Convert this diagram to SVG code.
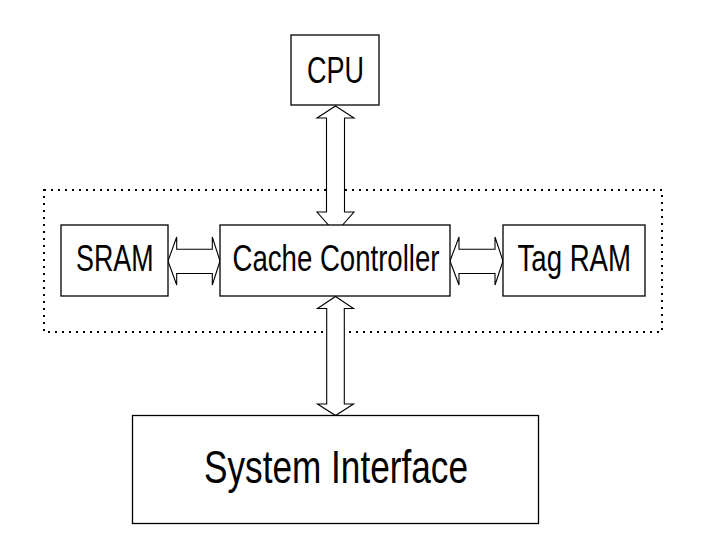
<svg xmlns="http://www.w3.org/2000/svg" width="706" height="541" viewBox="0 0 706 541">
<style>
.box{fill:#fff;stroke:#000;stroke-width:1.3}
.arr{fill:#fff;stroke:#000;stroke-width:1.1;stroke-linejoin:miter}
.grp{fill:none;stroke:#000;stroke-width:2;stroke-dasharray:2 5}
text{font-family:"Liberation Sans",Arial,sans-serif;fill:#000;text-anchor:start}
</style>
<rect width="706" height="541" fill="#fff"/>
<rect id="cache-group" class="grp" x="44" y="190" width="618" height="142"/>
<g id="connectors">
<polygon class="arr" points="335.5,106 354,118 344.5,118 344.5,212 354,212 335.5,233 317,212 326.5,212 326.5,118 317,118"/>
<polygon class="arr" points="335.5,296.5 353.5,308.5 344.3,308.5 344.3,404 353.5,404 335.5,415.5 317.5,404 326.7,404 326.7,308.5 317.5,308.5"/>
<polygon class="arr" points="168,261 176.7,237 176.7,249.3 212.3,249.3 212.3,237 220,261 212.3,285 212.3,273.5 176.7,273.5 176.7,285"/>
<polygon class="arr" points="450,261 459,237 459,249.3 495,249.3 495,237 503,261 495,285 495,273.5 459,273.5 459,285"/>
</g>
<g id="cpu">
<rect class="box" x="291" y="35" width="88" height="70"/>
<text x="307" y="82.5" font-size="37" textLength="57" lengthAdjust="spacingAndGlyphs">CPU</text>
</g>
<g id="sram">
<rect class="box" x="61" y="225" width="107" height="71"/>
<text x="76" y="271" font-size="36" textLength="77.5" lengthAdjust="spacingAndGlyphs">SRAM</text>
</g>
<g id="cache-controller">
<rect class="box" x="220" y="225" width="230" height="71"/>
<text x="232.5" y="271" font-size="36" textLength="207" lengthAdjust="spacingAndGlyphs">Cache Controller</text>
</g>
<g id="tag-ram">
<rect class="box" x="503" y="225" width="142" height="71"/>
<text x="517.5" y="271" font-size="36" textLength="113.5" lengthAdjust="spacingAndGlyphs">Tag RAM</text>
</g>
<g id="system-interface">
<rect class="box" x="132.5" y="415.5" width="406" height="108"/>
<text x="204" y="483.3" font-size="46" textLength="264" lengthAdjust="spacingAndGlyphs">System Interface</text>
</g>
</svg>
